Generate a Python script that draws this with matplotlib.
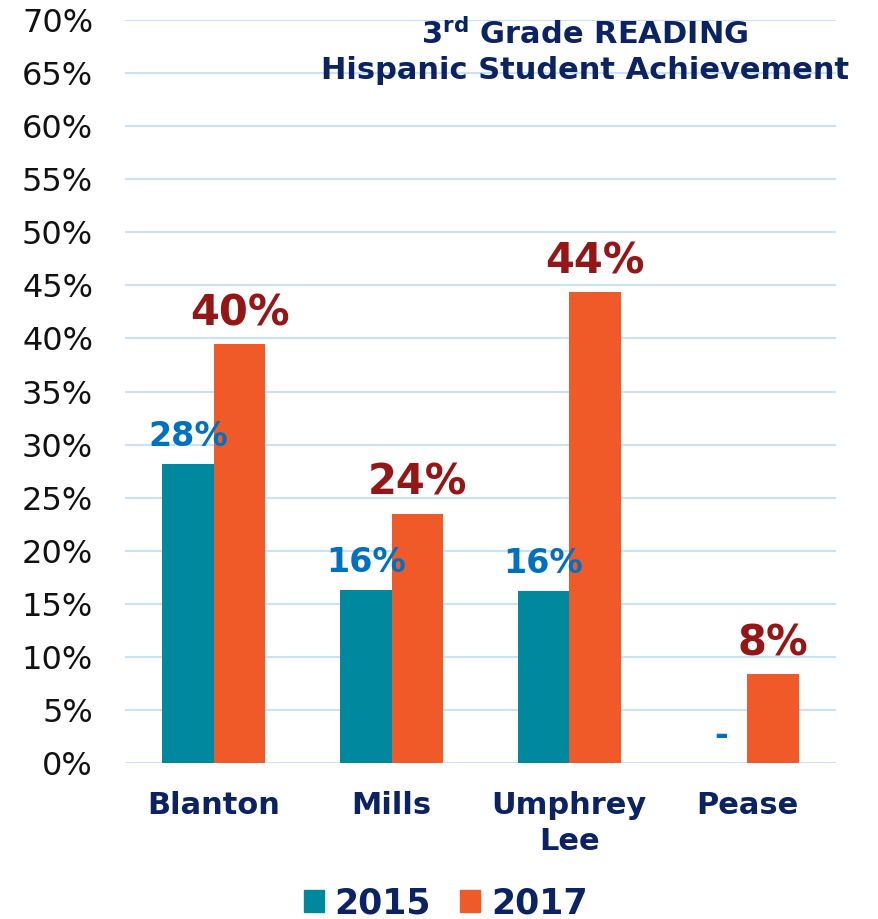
import matplotlib
matplotlib.use("Agg")
import matplotlib.pyplot as plt
from matplotlib.patches import Patch
import numpy as np

categories = ["Blanton", "Mills", "Umphrey\nLee", "Pease"]
vals_2015 = [28.2, 16.3, 16.2, None]
vals_2017 = [39.5, 23.5, 44.4, 8.4]
labels_2015 = ["28%", "16%", "16%", "-"]
labels_2017 = ["40%", "24%", "44%", "8%"]
series_names = ["2015", "2017"]
yticks = list(range(0, 75, 5))

teal = "#00889F"
orange = "#F05A28"
navy = "#0B2263"
blue_lbl = "#0070C0"
red_lbl = "#941616"
grid_c = "#C9E2F7"

plt.rcParams['font.family'] = ['DejaVu Sans']

fig = plt.figure(figsize=(8.79, 9.19), dpi=100)
ax = fig.add_axes([0.1422, 0.1697, 0.951 - 0.1422, 0.9782 - 0.1697])

x = np.arange(len(categories))
w = 0.29
v15 = [v if v is not None else 0 for v in vals_2015]
ax.bar(x - w / 2, v15, w, color=teal, zorder=3)
ax.bar(x + w / 2, vals_2017, w, color=orange, zorder=3)

for i in range(len(categories)):
    ax.annotate(labels_2015[i], (x[i] - w / 2, v15[i]), xytext=(0, 8),
                textcoords="offset points", ha="center", va="bottom",
                fontsize=24, fontweight="bold", color=blue_lbl, zorder=4)
    ax.annotate(labels_2017[i], (x[i] + w / 2, vals_2017[i]), xytext=(0, 7),
                textcoords="offset points", ha="center", va="bottom",
                fontsize=30, fontweight="bold", color=red_lbl, zorder=4)

ax.set_xlim(-0.5, len(categories) - 0.5)
ax.set_ylim(0, 70)
ax.set_yticks(yticks)
ax.set_yticklabels([f"{t}%" for t in yticks], fontsize=23, color="#111111")
ax.set_xticks(x)
ax.set_xticklabels(categories, fontsize=22, fontweight="bold", color=navy,
                   linespacing=1.3, va="top")
ax.tick_params(axis="x", length=0, pad=20)
ax.tick_params(axis="y", length=0, pad=23)
ax.yaxis.grid(True, color=grid_c, linewidth=1.5, zorder=0)
ax.set_axisbelow(True)
for s in ax.spines.values():
    s.set_visible(False)

ax.text(0.647, 1.003, "3$^{\\mathregular{rd}}$ Grade READING\nHispanic Student Achievement",
        transform=ax.transAxes, ha="center", va="top", fontsize=22,
        fontweight="bold", color=navy, linespacing=1.25)

handles = [Patch(color=teal), Patch(color=orange)]
fig.legend(handles, series_names, loc="center", bbox_to_anchor=(0.507, 0.017),
           ncol=2, frameon=False, prop={"size": 25, "weight": "bold"},
           labelcolor=navy, handlelength=0.58, handleheight=0.58,
           handletextpad=0.3, columnspacing=0.85)

fig.savefig("out.png", dpi=100)
